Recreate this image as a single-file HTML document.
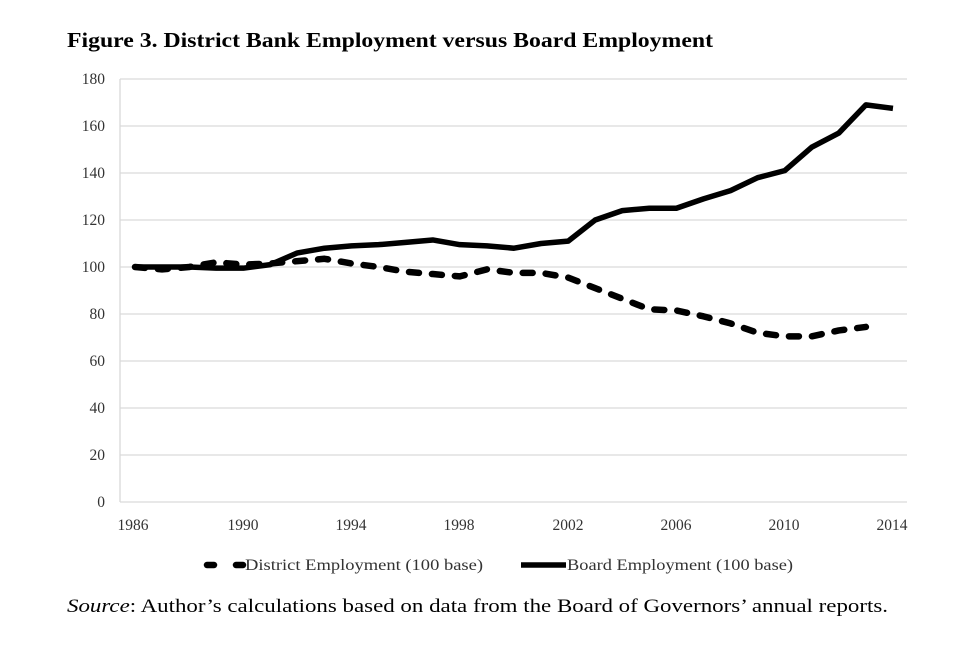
<!DOCTYPE html>
<html><head><meta charset="utf-8"><style>
body{margin:0;background:#fff;width:978px;height:644px;overflow:hidden}
</style></head><body>
<svg width="978" height="644" xmlns="http://www.w3.org/2000/svg" font-family="Liberation Serif, serif">
<text x="67" y="47" font-size="21" font-weight="bold" fill="#000" textLength="646" lengthAdjust="spacingAndGlyphs">Figure 3. District Bank Employment versus Board Employment</text>
<g stroke="#d9d9d9" stroke-width="1.3">
<line x1="120" x2="907" y1="79" y2="79"/><line x1="120" x2="907" y1="126" y2="126"/>
<line x1="120" x2="907" y1="173" y2="173"/><line x1="120" x2="907" y1="220" y2="220"/>
<line x1="120" x2="907" y1="267" y2="267"/><line x1="120" x2="907" y1="314" y2="314"/>
<line x1="120" x2="907" y1="361" y2="361"/><line x1="120" x2="907" y1="408" y2="408"/>
<line x1="120" x2="907" y1="455" y2="455"/><line x1="120" x2="907" y1="502" y2="502"/>
<line x1="120" x2="120" y1="79" y2="502"/>
</g>
<g font-size="15.5" fill="#333" text-anchor="end">
<text x="105" y="84">180</text><text x="105" y="131">160</text><text x="105" y="178">140</text>
<text x="105" y="225">120</text><text x="105" y="272">100</text><text x="105" y="319">80</text>
<text x="105" y="366">60</text><text x="105" y="413">40</text><text x="105" y="460">20</text>
<text x="105" y="507">0</text>
</g>
<g font-size="15.5" fill="#333" text-anchor="middle">
<text x="133" y="530">1986</text><text x="243" y="530">1990</text><text x="351" y="530">1994</text>
<text x="459" y="530">1998</text><text x="568" y="530">2002</text><text x="676" y="530">2006</text>
<text x="784" y="530">2010</text><text x="892" y="530">2014</text>
</g>
<g transform="translate(135,502) scale(27.07,-2.35)" fill="none" stroke="#000" stroke-linejoin="round">
<polyline vector-effect="non-scaling-stroke" stroke-width="5.5" points="0,100 1,100 2,100 3,99.5 4,99.5 5,101 6,106 7,108 8,109 9,109.5 10,110.5 11,111.5 12,109.5 13,109 14,108 15,110 16,111 17,120 18,124 19,125 20,125 21,129 22,132.5 23,138 24,141 25,151 26,157 27,169 28,167.5"/>
<polyline vector-effect="non-scaling-stroke" stroke-width="6.5" stroke-dasharray="10 13" stroke-linecap="round" points="0,100 1,99 2,100 3,102 4,101 5,101.5 6,102.5 7,103.5 8,101.5 9,100 10,98 11,97 12,96 13,99 14,97.5 15,97.5 16,95.5 17,91 18,86.5 19,82 20,81.5 21,79 22,76 23,72 24,70.5 25,70.5 26,73 27,74.5"/>
</g>
<g stroke="#000" stroke-linecap="round">
<line x1="207" y1="565" x2="214" y2="565" stroke-width="6.5"/>
<line x1="236" y1="565" x2="243" y2="565" stroke-width="6.5"/>
<line x1="521" y1="565" x2="566" y2="565" stroke-width="5.5" stroke-linecap="butt"/>
</g>
<g font-size="16" fill="#333">
<text x="245" y="570" textLength="238" lengthAdjust="spacingAndGlyphs">District Employment (100 base)</text>
<text x="567" y="570" textLength="226" lengthAdjust="spacingAndGlyphs">Board Employment (100 base)</text>
</g>
<text x="67" y="612" font-size="19" fill="#000" textLength="821" lengthAdjust="spacingAndGlyphs"><tspan font-style="italic">Source</tspan>: Author’s calculations based on data from the Board of Governors’ annual reports.</text>
</svg>
</body></html>
